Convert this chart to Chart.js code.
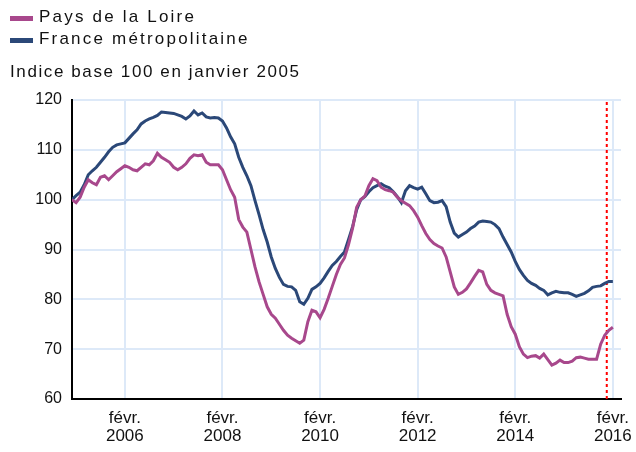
<!DOCTYPE html>
<html>
<head>
<meta charset="utf-8">
<script src="https://cdn.jsdelivr.net/npm/chart.js@4"></script>
<style>
  body { margin: 0; background: #fff; }
  #wrap { position: relative; width: 636px; height: 452px; }
  canvas { position: absolute; left: 0; top: 0; }
  .txt { position: absolute; font: 17px 'Liberation Sans', Arial, sans-serif; color: #111; letter-spacing: 2.2px; white-space: nowrap; }
  .sw { position: absolute; width: 23px; height: 5px; }
</style>
</head>
<body>
<div id="wrap">
  <canvas id="chart" width="636" height="452"></canvas>
  <div class="sw" style="left:10px; top:16px; background:#a8488c"></div>
  <div class="txt" style="left:39px; top:7px">Pays de la Loire</div>
  <div class="sw" style="left:10px; top:38px; background:#2b4878"></div>
  <div class="txt" style="left:39px; top:29px">France métropolitaine</div>
  <div class="txt" style="left:10px; top:62px; letter-spacing:1.6px">Indice base 100 en janvier 2005</div>
</div>
<script>
// monthly index, Jan 2005 = 0 ... Feb 2016 = 133
const tickMonths = [13, 37, 61, 85, 109, 133];
const tickYears = ['2006', '2008', '2010', '2012', '2014', '2016'];
const markerMonth = 131.5;

const paysDeLaLoire = [
  100.0, 99.4, 100.5, 102.5, 104.0, 103.4, 103.0, 104.5, 104.8, 104.0,
  104.8, 105.6, 106.2, 106.8, 106.5, 106.0, 105.8, 106.5, 107.2, 107.0,
  107.8, 109.3, 108.5, 108.0, 107.5, 106.5, 106.0, 106.5, 107.2, 108.3,
  109.0, 108.8, 109.0, 107.5, 107.0, 107.0, 107.0, 106.0, 104.0, 102.0,
  100.5, 96.0, 94.5, 93.5, 90.0, 86.5, 83.5, 81.0, 78.5, 77.0,
  76.2, 75.0, 73.8, 72.8, 72.2, 71.7, 71.2, 71.8, 75.5, 77.8,
  77.5, 76.3, 78.0, 80.2, 82.6, 85.0, 87.0, 88.3, 91.0, 94.3,
  98.5, 100.0, 100.7, 102.8, 104.2, 103.8, 102.5, 102.0, 101.8, 101.5,
  100.5, 99.8, 99.3, 98.8, 97.8, 96.5, 94.8, 93.2, 92.0, 91.2,
  90.7, 90.3, 88.5, 85.5, 82.5, 81.0, 81.4, 82.1, 83.3, 84.6,
  85.8, 85.5, 83.0, 81.8, 81.3, 81.0, 80.7, 77.0, 74.5, 73.0,
  70.5, 69.0, 68.3, 68.6, 68.7, 68.2, 69.0, 67.9, 66.8, 67.2,
  67.8, 67.3, 67.3, 67.6, 68.3, 68.4, 68.2, 68.0, 68.0, 68.0,
  71.0, 72.8, 73.8, 74.4
];

const franceMetro = [
  100.0, 100.8, 101.5, 103.0, 105.0, 105.8, 106.5, 107.5, 108.5, 109.6,
  110.5, 111.0, 111.2, 111.4, 112.3, 113.2, 114.0, 115.2, 115.8, 116.2,
  116.5, 116.9, 117.6, 117.5, 117.4, 117.3, 117.0, 116.7, 116.2, 116.8,
  117.8, 117.0, 117.4, 116.6, 116.4, 116.5, 116.4, 115.8, 114.4, 112.6,
  111.2, 108.5, 106.5, 104.8, 102.8, 99.8, 97.0, 94.0, 91.5, 88.5,
  86.2, 84.4, 83.0, 82.6, 82.5, 81.8, 79.5, 79.0, 80.2, 82.0,
  82.5, 83.2, 84.3, 85.6, 86.8, 87.6, 88.6, 89.5, 92.0, 94.6,
  98.0, 100.0, 100.6, 101.6, 102.4, 102.8, 103.2, 102.7, 102.4, 101.6,
  100.6, 99.4, 101.8, 102.8, 102.4, 102.1, 102.5, 101.2, 99.8, 99.4,
  99.5, 99.8, 98.6, 95.5, 93.3, 92.5, 93.0, 93.5, 94.2, 94.7,
  95.5, 95.7, 95.6, 95.5, 95.0, 94.2, 92.5, 91.0, 89.5, 87.6,
  86.0, 84.8, 83.8, 83.2, 82.8, 82.2, 81.8, 80.9, 81.3, 81.6,
  81.4, 81.3, 81.3, 81.0, 80.6, 80.9, 81.2, 81.7, 82.4, 82.6,
  82.7, 83.2, 83.6, 83.6
];

const toPoints = arr => arr.map((v, i) => ({ x: i, y: v }));

new Chart(document.getElementById('chart'), {
  type: 'line',
  data: {
    datasets: [
      {
        label: 'Pays de la Loire',
        data: toPoints(paysDeLaLoire),
        borderColor: '#a8488c',
        borderWidth: 3,
        pointRadius: 0,
        tension: 0
      },
      {
        label: 'France métropolitaine',
        data: toPoints(franceMetro),
        borderColor: '#2b4878',
        borderWidth: 3,
        pointRadius: 0,
        tension: 0
      },
      {
        label: 'marker',
        data: [{ x: markerMonth, y: 60 }, { x: markerMonth, y: 120 }],
        borderColor: '#ff0000',
        borderWidth: 2,
        borderDash: [3, 3],
        pointRadius: 0
      }
    ]
  },
  options: {
    responsive: false,
    animation: false,
    layout: { padding: { top: 100, right: 15, left: 0, bottom: 0 } },
    plugins: { legend: { display: false }, tooltip: { enabled: false } },
    scales: {
      x: {
        type: 'linear',
        min: 0,
        max: 135,
        afterBuildTicks: scale => { scale.ticks = tickMonths.map(v => ({ value: v })); },
        afterFit: scale => { scale.paddingLeft = 0; scale.paddingRight = 0; scale.height = 53; },
        grid: { color: '#dde9f8', lineWidth: 2, drawTicks: false },
        border: { color: '#000', width: 2 },
        ticks: {
          color: '#111',
          maxRotation: 0,
          autoSkip: false,
          padding: 10,
          font: { family: "'Liberation Sans', Arial", size: 17, lineHeight: 1.06 },
          callback: (v) => ['févr.', tickYears[tickMonths.indexOf(v)]]
        }
      },
      y: {
        min: 60,
        max: 120,
        afterFit: scale => { scale.width = 72; },
        grid: { color: '#dde9f8', lineWidth: 2, drawTicks: false },
        border: { color: '#000', width: 2 },
        ticks: {
          stepSize: 10,
          color: '#111',
          padding: 10,
          font: { family: "'Liberation Sans', Arial", size: 16 }
        }
      }
    }
  }
});
</script>
</body>
</html>
